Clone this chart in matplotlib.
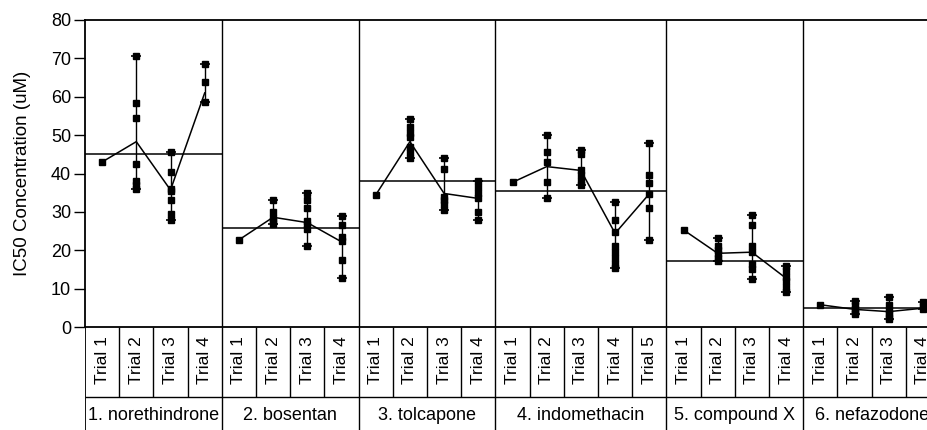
import matplotlib.pyplot as plt
import numpy as np

plt.rcParams['font.family'] = ['Liberation Sans', 'DejaVu Sans']

compounds = ['1. norethindrone', '2. bosentan', '3. tolcapone',
             '4. indomethacin', '5. compound X', '6. nefazodone']

# raw IC50 values per trial, one list per compound
norethindrone = [[43.0],
                 [70.5, 58.5, 54.5, 42.5, 38.0, 37.0, 36.0],
                 [45.5, 40.5, 36.0, 35.5, 33.0, 29.5, 28.0],
                 [68.5, 63.8, 58.7]]
bosentan = [[22.7],
            [33.0, 30.0, 28.5, 27.5, 26.8],
            [34.8, 33.0, 31.0, 27.5, 26.5, 25.5, 21.0],
            [29.0, 26.5, 23.5, 22.5, 17.5, 12.7]]
tolcapone = [[34.4],
             [54.3, 52.0, 50.5, 49.5, 47.0, 45.5, 44.0],
             [44.0, 41.3, 34.0, 33.0, 32.0, 30.5],
             [38.0, 36.5, 35.0, 33.5, 30.0, 28.0]]
indomethacin = [[37.7],
                [50.0, 45.7, 43.1, 37.9, 33.6],
                [46.0, 45.0, 41.0, 39.5, 38.0, 37.0],
                [32.7, 27.8, 24.8, 21.0, 19.5, 18.0, 16.5, 15.3],
                [48.0, 39.5, 37.5, 34.7, 31.0, 22.8]]
compound_x = [[25.3],
              [23.2, 21.0, 20.0, 19.0, 18.0, 17.3],
              [29.3, 26.5, 21.0, 19.5, 16.5, 15.0, 12.4],
              [16.0, 14.5, 13.0, 12.0, 10.5, 9.0]]
nefazodone = [[5.8],
              [6.8, 5.8, 4.8, 4.0, 3.3],
              [7.9, 5.7, 4.5, 3.6, 2.6, 2.0],
              [6.6, 5.5, 4.7]]

# cell means (connected line) and compound means (horizontal line)
trial_means = [[43.0, 48.3, 35.7, 61.0],
               [22.7, 28.6, 27.2, 22.2],
               [34.4, 48.3, 34.8, 33.5],
               [37.7, 41.8, 40.8, 24.4, 34.7],
               [25.3, 19.2, 19.5, 12.7],
               [5.8, 4.6, 4.0, 4.9]]
grand_means = [45.2, 25.7, 38.1, 35.5, 17.3, 4.9]

data = [norethindrone, bosentan, tolcapone, indomethacin, compound_x, nefazodone]
yticks = np.arange(0, 81, 10)

W, H = 927, 430
x0, slot = 85, 34.2
n_slots = sum(len(d) for d in data)
y_top, y_zero, y_row, y_end = 20, 327, 397, 450

fig = plt.figure(figsize=(W / 100, H / 100), dpi=100)
ax = fig.add_axes([x0 / W, 1 - y_zero / H, n_slots * slot / W, (y_zero - y_top) / H])
lab = fig.add_axes([x0 / W, 1 - y_end / H, n_slots * slot / W, (y_end - y_zero) / H])

ax.set_xlim(0, n_slots)
ax.set_ylim(0, 80)
ax.set_yticks(yticks)
ax.set_xticks([])
ax.tick_params(axis='y', length=8, width=1, pad=2, labelsize=13)
ax.set_ylabel('IC50 Concentration (uM)', fontsize=13.5, labelpad=14)
for sp in ax.spines.values():
    sp.set_linewidth(1.3)

lab.set_xlim(0, n_slots)
lab.set_ylim(y_end, y_zero)
lab.axis('off')

start = 0
for c, (name, trials) in enumerate(zip(compounds, data)):
    n = len(trials)
    xs = start + np.arange(n) + 0.5
    for x, vals in zip(xs, trials):
        vals = np.array(vals)
        if len(vals) > 1:
            ax.vlines(x, vals.min(), vals.max(), color='black', lw=1)
            ax.plot([x, x], [vals.min(), vals.max()], ls='none', marker='_',
                    ms=7, mew=1.2, color='black')
        ax.plot(np.full(len(vals), x), vals, ls='none', marker='s', ms=5,
                color='black')
    ax.plot(xs, trial_means[c], color='black', lw=1.1)
    ax.hlines(grand_means[c], start, start + n, color='black', lw=1.1)
    if c > 0:
        ax.axvline(start, color='black', lw=1)
        lab.vlines(start, y_zero, y_end, color='black', lw=1)

    # trial label cells
    for i, x in enumerate(xs):
        lab.text(x, 360, f'Trial {i + 1}', rotation=90, ha='center',
                 va='center', fontsize=12.5)
        if i > 0:
            lab.vlines(start + i, y_zero, y_row, color='black', lw=1)
    lab.text(start + n / 2, 415, name, ha='center', va='center', fontsize=13)
    start += n

lab.vlines(0, y_zero, y_end, color='black', lw=1.3)
lab.hlines(y_row, 0, n_slots, color='black', lw=1)

fig.savefig('out.png', dpi=100)
